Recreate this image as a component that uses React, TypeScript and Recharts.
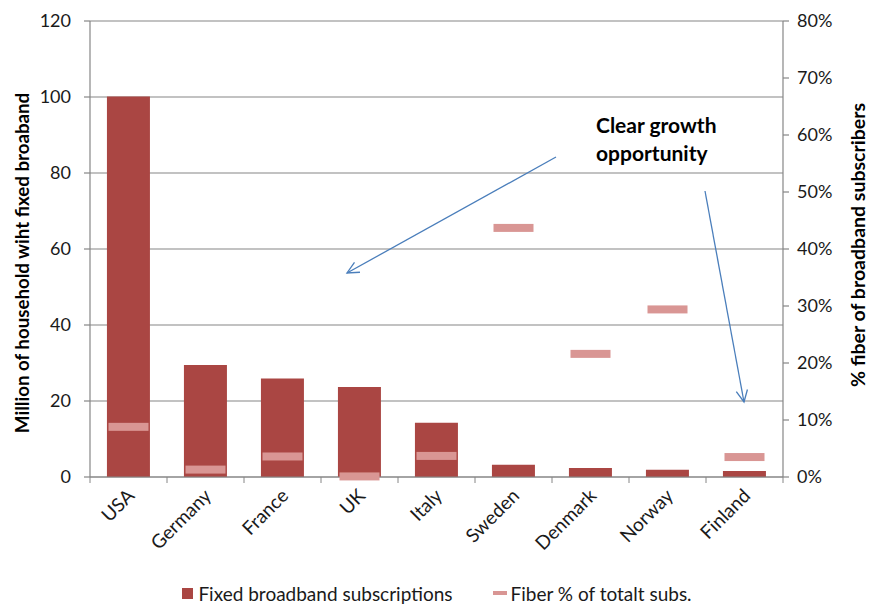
import {
  ComposedChart,
  Bar,
  Line,
  XAxis,
  YAxis,
  CartesianGrid,
  Legend,
  Label,
} from "recharts";

const countries = ["USA", "Germany", "France", "UK", "Italy", "Sweden", "Denmark", "Norway", "Finland"];
const subscriptions = [100.1, 29.5, 25.9, 23.7, 14.3, 3.2, 2.4, 1.9, 1.6];
const fiberPct = [8.8, 1.3, 3.6, 0.1, 3.7, 43.7, 21.6, 29.4, 3.5];
const leftTicks = [0, 20, 40, 60, 80, 100, 120];
const rightTicks = [0, 10, 20, 30, 40, 50, 60, 70, 80];

const W = 874;
const H = 608;
const LEFT_W = 90;
const RIGHT_W = 91;
const BAND = (W - LEFT_W - RIGHT_W) / countries.length;

const barColor = "#AA4643";
const fiberColor = "#D99694";
const axisColor = "#868686";
const arrowColor = "#4A7EBB";
const FONT = "Lato, 'Noto Sans', sans-serif";

const data = countries.map((c, i) => ({
  country: c,
  subs: subscriptions[i],
  fiber: fiberPct[i],
}));

function CountryTick(props: any) {
  const { x, y, payload, index } = props;
  const last = index === countries.length - 1;
  const tx = x + 7;
  const ty = y + 20;
  return (
    <g>
      <line x1={x - BAND / 2} x2={x - BAND / 2} y1={y} y2={y + 6} stroke={axisColor} />
      {last && <line x1={x + BAND / 2} x2={x + BAND / 2} y1={y} y2={y + 6} stroke={axisColor} />}
      <text
        x={tx}
        y={ty}
        textAnchor="end"
        fontSize={19}
        fill="#1a1a1a"
        transform={`rotate(-45, ${tx}, ${ty})`}
      >
        {payload.value}
      </text>
    </g>
  );
}

function FiberDot(props: any) {
  const { cx, cy, index } = props;
  if (cx == null || cy == null) return null;
  return <rect key={index} x={cx - 20} y={cy - 4} width={40} height={8} fill={fiberColor} />;
}

function LeftTitle(props: any) {
  const { viewBox } = props;
  const x = 22;
  const y = viewBox.y + viewBox.height / 2 + 14;
  return (
    <text x={x} y={y} textAnchor="middle" dominantBaseline="central" fontSize={18.7} fontWeight="bold" fill="#000" transform={`rotate(-90, ${x}, ${y})`}>
      Million of household wiht fixed broaband
    </text>
  );
}

function RightTitle(props: any) {
  const { viewBox } = props;
  const x = 857;
  const y = viewBox.y + viewBox.height / 2 - 4;
  return (
    <text x={x} y={y} textAnchor="middle" dominantBaseline="central" fontSize={19.5} fontWeight="bold" fill="#000" transform={`rotate(-90, ${x}, ${y})`}>
      % fiber of broadband subscribers
    </text>
  );
}

function LegendBox() {
  return (
    <div style={{ display: "flex", justifyContent: "center", alignItems: "center", height: 30, fontSize: 19, color: "#1a1a1a", fontFamily: FONT }}>
      <span style={{ display: "inline-block", width: 11, height: 11, background: barColor, marginRight: 5 }} />
      <span style={{ marginRight: 40 }}>Fixed broadband subscriptions</span>
      <span style={{ display: "inline-block", width: 14, height: 4, background: fiberColor, marginRight: 4 }} />
      <span>Fiber % of totalt subs.</span>
    </div>
  );
}

function Arrow({ x1, y1, x2, y2 }: { x1: number; y1: number; x2: number; y2: number }) {
  const a = Math.atan2(y2 - y1, x2 - x1);
  const L = 13;
  const s = 0.45;
  const p1 = [x2 - L * Math.cos(a - s), y2 - L * Math.sin(a - s)];
  const p2 = [x2 - L * Math.cos(a + s), y2 - L * Math.sin(a + s)];
  return (
    <g stroke={arrowColor} strokeWidth={1.3} fill="none">
      <line x1={x1} y1={y1} x2={x2} y2={y2} />
      <polyline points={`${p1[0]},${p1[1]} ${x2},${y2} ${p2[0]},${p2[1]}`} />
    </g>
  );
}

export default function App() {
  return (
    <div style={{ position: "absolute", left: 0, top: 0, width: W, height: H, fontFamily: FONT, background: "#fff" }}>
      <ComposedChart
        width={W}
        height={H}
        data={data}
        margin={{ top: 21, right: 0, left: 0, bottom: 0 }}
        barCategoryGap="22%"
      >
        <CartesianGrid yAxisId="left" vertical={false} horizontal stroke={axisColor} strokeWidth={1.2} />
        <XAxis
          dataKey="country"
          height={101}
          interval={0}
          tickLine={false}
          tickSize={0}
          tickMargin={0}
          stroke={axisColor}
          strokeWidth={1.2}
          tick={<CountryTick />}
        />
        <YAxis
          yAxisId="left"
          domain={[0, 120]}
          ticks={leftTicks}
          width={LEFT_W}
          tickSize={6}
          tickMargin={13}
          stroke={axisColor}
          strokeWidth={1.2}
          tick={{ fontSize: 18, fill: "#1a1a1a" }}
        >
          <Label content={<LeftTitle />} />
        </YAxis>
        <YAxis
          yAxisId="right"
          orientation="right"
          domain={[0, 80]}
          ticks={rightTicks}
          tickFormatter={(v) => `${v}%`}
          width={RIGHT_W}
          tickSize={6}
          tickMargin={8}
          stroke={axisColor}
          strokeWidth={1.2}
          tick={{ fontSize: 18, fill: "#1a1a1a", textAnchor: "start" }}
        >
          <Label content={<RightTitle />} />
        </YAxis>
        <Bar yAxisId="left" dataKey="subs" fill={barColor} isAnimationActive={false} />
        <Line
          yAxisId="right"
          dataKey="fiber"
          stroke="none"
          dot={<FiberDot />}
          activeDot={false}
          isAnimationActive={false}
        />
        <Legend verticalAlign="bottom" height={30} content={<LegendBox />} />
      </ComposedChart>
      <svg width={W} height={H} style={{ position: "absolute", left: 0, top: 0, pointerEvents: "none" }}>
        <text x={596} y={133} fontSize={21} fontWeight="bold" fill="#000">Clear growth</text>
        <text x={596} y={161} fontSize={21} fontWeight="bold" fill="#000">opportunity</text>
        <Arrow x1={556} y1={157} x2={347} y2={273} />
        <Arrow x1={705} y1={191} x2={744} y2={402} />
      </svg>
    </div>
  );
}
